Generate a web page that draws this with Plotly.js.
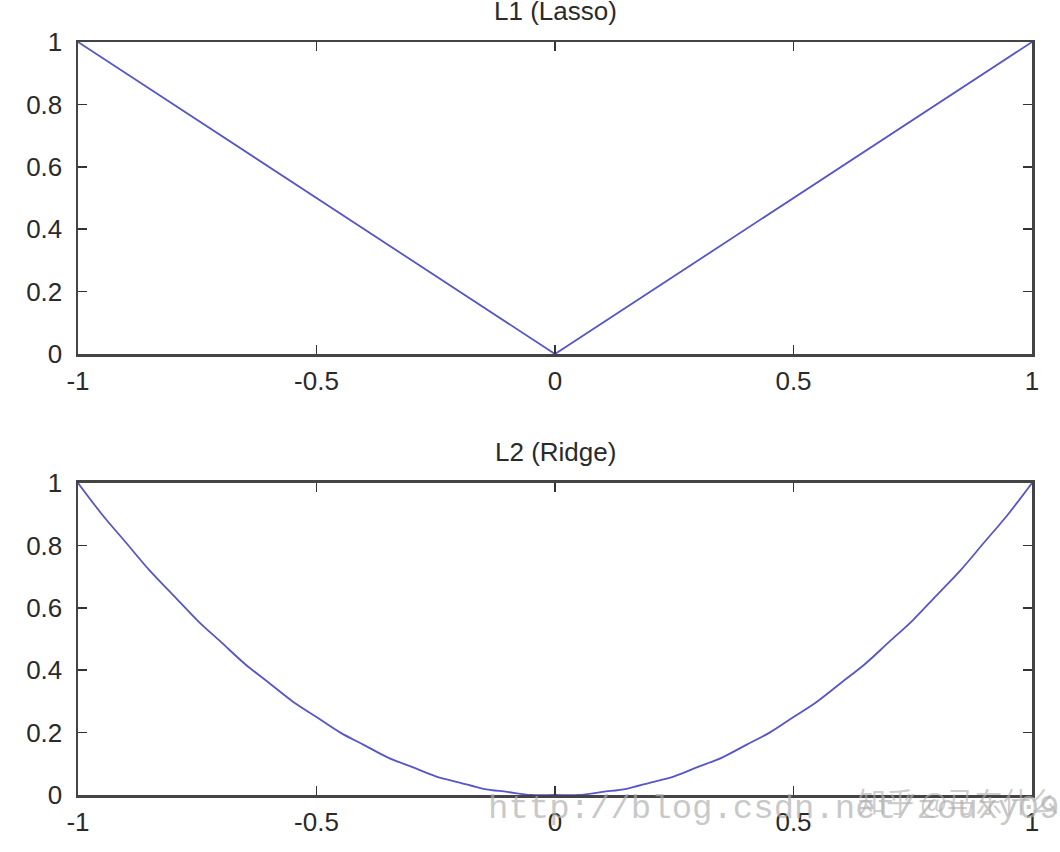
<!DOCTYPE html>
<html>
<head>
<meta charset="utf-8">
<script src="https://cdn.plot.ly/plotly-3.0.1.min.js"></script>
<style>html,body{margin:0;padding:0;background:#fff;}#chart{width:1060px;height:852px;}</style>
</head>
<body>
<div id="chart"></div>
<script>
// L1 (Lasso) panel
const l1X = [-1, 0, 1];
const l1Y = [1, 0, 1];
// L2 (Ridge) panel
const l2X = [-1.00,-0.95,-0.90,-0.85,-0.80,-0.75,-0.70,-0.65,-0.60,-0.55,-0.50,-0.45,-0.40,-0.35,-0.30,-0.25,-0.20,-0.15,-0.10,-0.05,0.00,
              0.05,0.10,0.15,0.20,0.25,0.30,0.35,0.40,0.45,0.50,0.55,0.60,0.65,0.70,0.75,0.80,0.85,0.90,0.95,1.00];
const l2Y = [1.00,0.90,0.81,0.72,0.64,0.56,0.49,0.42,0.36,0.30,0.25,0.20,0.16,0.12,0.09,0.06,0.04,0.02,0.01,0.00,0.00,
              0.00,0.01,0.02,0.04,0.06,0.09,0.12,0.16,0.20,0.25,0.30,0.36,0.42,0.49,0.56,0.64,0.72,0.81,0.90,1.00];
const xTicks = [-1, -0.5, 0, 0.5, 1];
const xTickText = ['-1', '-0.5', '0', '0.5', '1'];
const yTicks = [0, 0.2, 0.4, 0.6, 0.8, 1];
const yTickText = ['0', '0.2', '0.4', '0.6', '0.8', '1'];
const titles = ['L1 (Lasso)', 'L2 (Ridge)'];
const watermarks = ['http://blog.csdn.net/zouxy09', '知乎 @马东什么'];

const lineColor = '#5656c8';
const tickFont = {family: 'Liberation Sans, Arial, sans-serif', size: 26, color: '#2a2a2a'};
const axisCommonX = {
  range: [-1, 1], tickvals: xTicks, ticktext: xTickText,
  ticks: 'inside', ticklen: 9, tickwidth: 1.5, tickcolor: '#333',
  showline: true, linecolor: '#444', linewidth: 2.5, mirror: 'allticks',
  showgrid: false, zeroline: false, fixedrange: true,
  ticklabelstandoff: 2,
  tickfont: tickFont
};
const axisCommonY = {
  range: [0, 1], tickvals: yTicks, ticktext: yTickText,
  ticks: 'inside', ticklen: 9, tickwidth: 1.5, tickcolor: '#333',
  showline: true, linecolor: '#444', linewidth: 2.5, mirror: 'allticks',
  showgrid: false, zeroline: false, fixedrange: true,
  ticklabelstandoff: 8,
  tickfont: tickFont
};

const data = [
  {x: l1X, y: l1Y, type: 'scatter', mode: 'lines', xaxis: 'x', yaxis: 'y',
   line: {color: lineColor, width: 1.8}, hoverinfo: 'skip', cliponaxis: false},
  {x: l2X, y: l2Y, type: 'scatter', mode: 'lines', xaxis: 'x2', yaxis: 'y2',
   line: {color: lineColor, width: 1.8, shape: 'spline'}, hoverinfo: 'skip', cliponaxis: false}
];

const layout = {
  width: 1060, height: 852,
  margin: {l: 78, r: 28, t: 0, b: 0},
  paper_bgcolor: '#fff', plot_bgcolor: '#fff',
  showlegend: false,
  xaxis: Object.assign({}, axisCommonX, {anchor: 'y', domain: [0, 1]}),
  yaxis: Object.assign({}, axisCommonY, {anchor: 'x', domain: [0.5845, 0.9507]}),
  xaxis2: Object.assign({}, axisCommonX, {anchor: 'y2', domain: [0, 1]}),
  yaxis2: Object.assign({}, axisCommonY, {anchor: 'x2', domain: [0.0669, 0.4331]}),
  annotations: [
    {text: titles[0], xref: 'paper', yref: 'paper', x: 0.5, y: 0.9507, yshift: 14,
     showarrow: false, yanchor: 'bottom', font: {family: 'Liberation Sans, Arial, sans-serif', size: 26, color: '#2a2a2a'}},
    {text: titles[1], xref: 'paper', yref: 'paper', x: 0.5, y: 0.4331, yshift: 14,
     showarrow: false, yanchor: 'bottom', font: {family: 'Liberation Sans, Arial, sans-serif', size: 26, color: '#2a2a2a'}},
    {text: watermarks[0], xref: 'paper', yref: 'paper', x: 1.03, y: 0.05,
     showarrow: false, xanchor: 'right', yanchor: 'middle',
     font: {family: 'Liberation Mono, DejaVu Sans Mono, monospace', size: 34, color: 'rgba(175,175,175,0.7)'}},
    {text: watermarks[1], xref: 'paper', yref: 'paper', x: 1.03, y: 0.06,
     showarrow: false, xanchor: 'right', yanchor: 'middle',
     font: {family: 'Noto Sans CJK SC, sans-serif', size: 28, color: 'rgba(175,175,175,0.65)'}}
  ]
};

Plotly.newPlot('chart', data, layout, {staticPlot: true, displayModeBar: false});
</script>
</body>
</html>
